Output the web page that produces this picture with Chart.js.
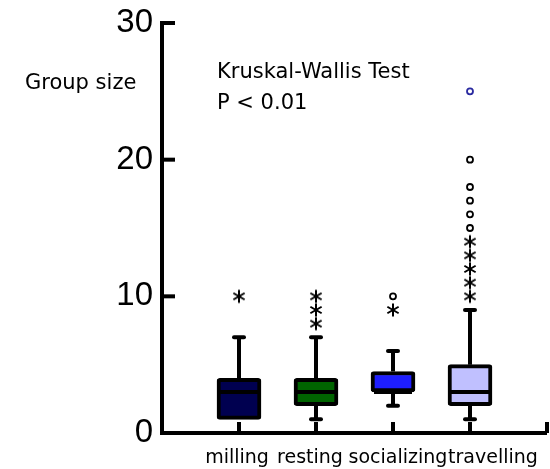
<!DOCTYPE html>
<html><head><meta charset="utf-8">
<script src="https://cdn.jsdelivr.net/npm/chart.js@4.4.0/dist/chart.umd.min.js"></script>
<style>html,body{margin:0;padding:0;background:#fff;overflow:hidden}#wrap{width:550px;height:469px;position:relative}canvas{display:block}</style>
</head><body><div id="wrap"><canvas id="c" width="550" height="469" style="width:550px;height:469px"></canvas></div>
<script>
const categories = ['milling','resting','socializing','travelling'];
const whiskerLow = [1, 1, 2, 1];
const q1 = [1, 2, 3, 2];
const median = [3, 3, 3, 3];
const q3 = [4, 4, 4.5, 5];
const whiskerHigh = [7, 7, 6, 9];
const extremes = [[10], [8, 9, 10], [9], [10, 11, 12, 13, 14]];
const outliers = [[], [], [10], [15, 16, 17, 18, 20, 25]];
const yTicks = [0, 10, 20, 30];
const boxColors = ['#000050', '#006400', '#1e1eff', '#c0c0ff'];
const axisLabels = ['', ...categories, ''];
// horizontal nudge of each category label relative to its tick (styling only)
const labelNudge = [-2, -6, 5, 23];

const FONT = '"DejaVu Sans", sans-serif';
const NUMFONT = '"Liberation Sans", sans-serif';

function makeAsterisk() {
  const c = document.createElement('canvas');
  c.width = 16; c.height = 16;
  const g = c.getContext('2d');
  g.strokeStyle = '#000'; g.lineWidth = 2; g.lineCap = 'butt';
  const cx = 8, cy = 8, r = 6.5;
  for (const a of [90, 30, -30]) {
    const t = a * Math.PI / 180;
    g.beginPath();
    g.moveTo(cx - r * Math.cos(t), cy - r * Math.sin(t));
    g.lineTo(cx + r * Math.cos(t), cy + r * Math.sin(t));
    g.stroke();
  }
  return c;
}

const boxData = [null, ...categories.map((c, i) => [q1[i], q3[i]]), null];
const extremePts = [];
extremes.forEach((arr, i) => arr.forEach(v => extremePts.push({x: categories[i], y: v})));
const outlierPts = [];
outliers.forEach((arr, i) => arr.forEach(v => outlierPts.push({x: categories[i], y: v})));

const boxPlugin = {
  id: 'boxparts',
  beforeDatasetsDraw(chart) {
    const {ctx, chartArea: a, scales: {x, y}} = chart;
    ctx.save();
    ctx.strokeStyle = '#000';
    ctx.lineWidth = 4;
    ctx.lineCap = 'butt';
    ctx.beginPath();
    ctx.moveTo(a.left, a.top - 2);
    ctx.lineTo(a.left, a.bottom + 2);
    ctx.stroke();
    yTicks.forEach(t => {
      const py = y.getPixelForValue(t);
      ctx.beginPath(); ctx.moveTo(a.left, py); ctx.lineTo(a.left + 13, py); ctx.stroke();
    });
    ctx.beginPath();
    ctx.moveTo(a.left - 2, a.bottom);
    ctx.lineTo(a.right, a.bottom);
    ctx.stroke();
    for (let i = 1; i < axisLabels.length; i++) {
      const px = x.getPixelForValue(i);
      ctx.beginPath(); ctx.moveTo(px, a.bottom); ctx.lineTo(px, a.bottom - 11); ctx.stroke();
    }
    categories.forEach((c, i) => {
      const px = x.getPixelForValue(i + 1);
      ctx.beginPath();
      ctx.moveTo(px, y.getPixelForValue(q3[i])); ctx.lineTo(px, y.getPixelForValue(whiskerHigh[i]));
      ctx.moveTo(px, y.getPixelForValue(q1[i])); ctx.lineTo(px, y.getPixelForValue(whiskerLow[i]));
      ctx.stroke();
    });
    ctx.restore();
  },
  afterDatasetsDraw(chart) {
    const {ctx, scales: {x, y}} = chart;
    const meta = chart.getDatasetMeta(0);
    ctx.save();
    ctx.strokeStyle = '#000';
    categories.forEach((c, i) => {
      const px = x.getPixelForValue(i + 1);
      const bar = meta.data[i + 1];
      const half = bar.width / 2 - 3;
      ctx.lineWidth = 4;
      ctx.lineCap = 'butt';
      const my = y.getPixelForValue(median[i]);
      ctx.beginPath(); ctx.moveTo(px - half, my); ctx.lineTo(px + half, my); ctx.stroke();
      ctx.lineCap = 'round';
      ctx.lineWidth = 4;
      for (const v of [whiskerHigh[i], whiskerLow[i]]) {
        if (v === q1[i] || v === q3[i]) continue;
        const cy = y.getPixelForValue(v);
        ctx.beginPath(); ctx.moveTo(px - 5, cy); ctx.lineTo(px + 5, cy); ctx.stroke();
      }
    });
    ctx.restore();
  },
  afterDraw(chart) {
    const {ctx, scales: {x}} = chart;
    ctx.save();
    ctx.fillStyle = '#000';
    ctx.textBaseline = 'alphabetic';
    ctx.textAlign = 'left';
    ctx.font = '21px ' + FONT;
    ctx.fillText('Group size', 25, 89);
    ctx.fillText('Kruskal-Wallis Test', 217, 78);
    ctx.fillText('P < 0.01', 217, 109);
    ctx.font = '19px ' + FONT;
    ctx.textAlign = 'center';
    categories.forEach((c, i) => {
      ctx.fillText(c, x.getPixelForValue(i + 1) + labelNudge[i], 463);
    });
    ctx.restore();
  }
};

new Chart(document.getElementById('c'), {
  data: {
    labels: axisLabels,
    datasets: [
      {
        type: 'bar',
        data: boxData,
        backgroundColor: [null, ...boxColors, null],
        borderColor: '#000',
        borderWidth: 4,
        borderRadius: 3,
        borderSkipped: false,
        barThickness: 44,
        order: 2
      },
      {
        type: 'line',
        data: extremePts,
        showLine: false,
        pointStyle: makeAsterisk(),
        pointRadius: 7,
        order: 1
      },
      {
        type: 'line',
        data: outlierPts,
        showLine: false,
        pointStyle: 'circle',
        pointRadius: 3,
        pointBorderWidth: 1.8,
        pointBackgroundColor: '#fff',
        pointBorderColor: (ctx) => (ctx.raw && ctx.raw.y === Math.max(...outliers[3])) ? '#2a2aa0' : '#000',
        order: 1
      }
    ]
  },
  options: {
    responsive: false,
    animation: false,
    devicePixelRatio: 1,
    layout: {autoPadding: false, padding: {top: 23, right: 3, left: 0, bottom: 0}},
    plugins: {legend: {display: false}, tooltip: {enabled: false}},
    scales: {
      x: {
        type: 'category',
        offset: false,
        grid: {display: false, drawTicks: false},
        border: {display: false},
        ticks: {display: false},
        afterFit: s => { s.height = 36; s.paddingLeft = 0; s.paddingRight = 0; }
      },
      y: {
        min: 0, max: 30,
        grid: {display: false, drawTicks: false},
        border: {display: false},
        ticks: {stepSize: 10, padding: 9, color: '#000', font: {family: NUMFONT, size: 33}},
        afterFit: s => { s.width = 162; s.paddingTop = 0; s.paddingBottom = 0; }
      }
    }
  },
  plugins: [boxPlugin]
});
</script>
</body></html>
